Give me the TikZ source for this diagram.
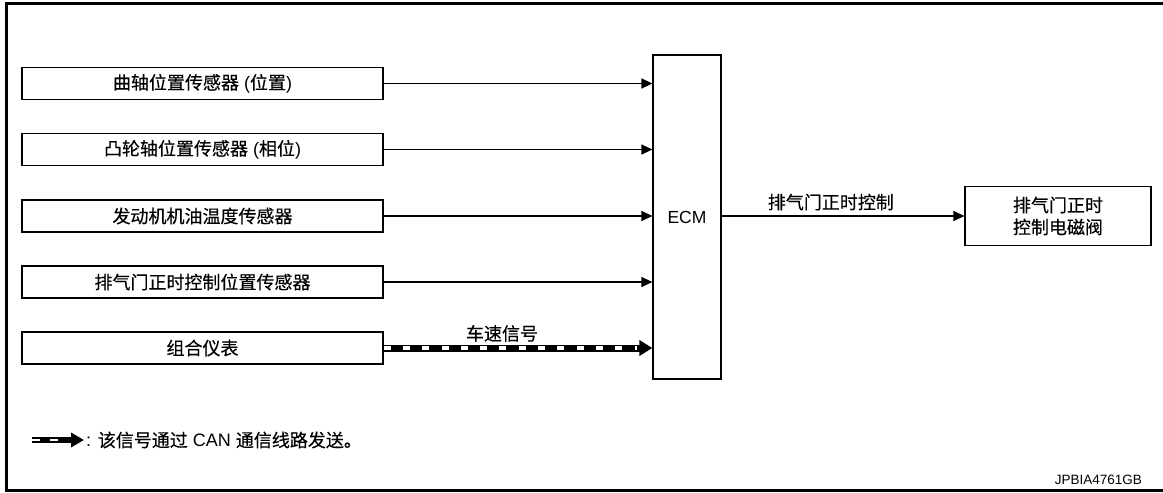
\documentclass[tikz,border=0pt]{standalone}
\usepackage{fontspec}
\setmainfont{Liberation Sans}
\newfontfamily\cjk{Noto Sans CJK SC}[FakeBold=0.35]
\usetikzlibrary{arrows.meta,calc}
\tikzset{
  sbox/.style={draw, line width=1.2pt, minimum width=361pt, minimum height=32pt, inner sep=0pt, font=\fontsize{18}{21}\selectfont},
  ecmbox/.style={draw, line width=1.2pt, minimum width=68pt, minimum height=324pt, inner sep=0pt, font=\fontsize{17.5}{21}\selectfont},
  valvebox/.style={draw, line width=1.2pt, minimum width=186pt, minimum height=59pt, inner sep=0pt, align=center, font=\fontsize{18}{22}\selectfont},
  arr/.style={line width=1.2pt, -{Triangle[length=11pt,width=10pt]}},
  canblack/.style={line width=7pt, -{Triangle[length=13pt,width=15pt]}},
  canwhite/.style={line width=3.5pt, white, dash pattern=on 7pt off 12.3pt},
  lbl/.style={font=\fontsize{18}{21}\selectfont, inner sep=2pt},
  frame/.style={line width=3pt}
}
\begin{document}
\begin{tikzpicture}[x=1pt,y=-1pt]
\useasboundingbox (0,0) rectangle (1163,493);
\draw[frame] (1164,3) -- (6,3) -- (6,490) -- (1164,490);

\node[sbox] (s1) at (202.5,83.5) {{\cjk 曲轴位置传感器} ({\cjk 位置})};
\node[sbox] (s2) at (202.5,149.5) {{\cjk 凸轮轴位置传感器} ({\cjk 相位})};
\node[sbox] (s3) at (202.5,216) {\cjk 发动机机油温度传感器};
\node[sbox] (s4) at (202.5,282) {\cjk 排气门正时控制位置传感器};
\node[sbox] (s5) at (202.5,348) {\cjk 组合仪表};

\node[ecmbox] (ecm) at (687,217) {ECM};
\node[valvebox] (valve) at (1058,216) {{\cjk 排气门正时}\\{\cjk 控制电磁阀}};

\draw[arr] (s1.east) -- (s1.east -| ecm.west);
\draw[arr] (s2.east) -- (s2.east -| ecm.west);
\draw[arr] (s3.east) -- (s3.east -| ecm.west);
\draw[arr] (s4.east) -- (s4.east -| ecm.west);

\draw[canblack] (s5.east) -- (s5.east -| ecm.west);
\draw[canwhite] (s5.east) -- ($(s5.east -| ecm.west)+(-15,0)$);
\node[lbl, anchor=south] (spd) at (502,344) {\cjk 车速信号};

\draw[arr] (ecm.east |- valve.west) -- node[lbl, above=3pt, pos=0.45] (ctl) {\cjk 排气门正时控制} (valve.west);

\coordinate (lg1) at (32,440);
\coordinate (lg2) at (84,440);
\draw[line width=5.5pt, -{Triangle[length=13pt,width=14pt]}] (lg1) -- (lg2);
\draw[line width=2.8pt, white, dash pattern=on 8pt off 10pt] (lg1) -- ($(lg1)+(26,0)$);
\node[lbl, anchor=west, inner sep=0pt] (legend) at (86,440) {: {\cjk 该信号通过} CAN {\cjk 通信线路发送。}};

\node[anchor=base east, font=\fontsize{13.5}{15}\selectfont, inner sep=0pt] (code) at (1142,484) {JPBIA4761GB};
\end{tikzpicture}
\end{document}
